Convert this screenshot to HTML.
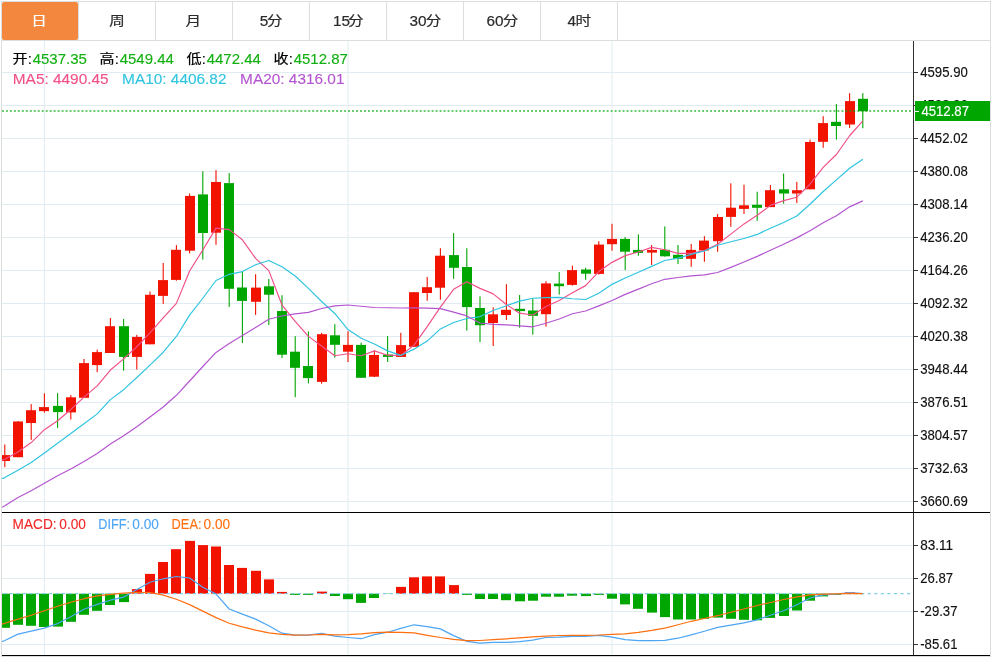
<!DOCTYPE html>
<html lang="zh-CN"><head><meta charset="utf-8"><title>K线图</title>
<style>
html,body{margin:0;padding:0;background:#fff;}
body{width:1000px;height:657px;overflow:hidden;position:relative;}
svg{display:block;position:absolute;left:0;top:0;}
text{font-family:"Liberation Sans","Noto Sans CJK SC",sans-serif;}
.ax{font-size:14.3px;fill:#111;stroke:#111;stroke-width:0.15px;}
.tabd{font-size:15.3px;stroke-width:0.2px;}
.tabc{font-size:15.6px;stroke-width:0.2px;}
.info{font-size:15px;}
.cj{font-size:15px;}
.info,.r2,.mi{stroke-width:0.12px;}
.cj{stroke-width:0.2px;}
.r2{font-size:15.4px;}
.mi{font-size:14px;}
</style></head><body>
<svg width="1000" height="657" viewBox="0 0 1000 657">
<rect x="0" y="0" width="1000" height="657" fill="#fff"/>
<g shape-rendering="crispEdges">
<rect x="1.5" y="1.5" width="989" height="655" fill="none" stroke="#ddd" stroke-width="1"/>
<rect x="2" y="40" width="988" height="1" fill="#ddd"/>
<rect x="78" y="2" width="1" height="38" fill="#ddd"/>
<rect x="155" y="2" width="1" height="38" fill="#ddd"/>
<rect x="232" y="2" width="1" height="38" fill="#ddd"/>
<rect x="309" y="2" width="1" height="38" fill="#ddd"/>
<rect x="386" y="2" width="1" height="38" fill="#ddd"/>
<rect x="463" y="2" width="1" height="38" fill="#ddd"/>
<rect x="540" y="2" width="1" height="38" fill="#ddd"/>
<rect x="617" y="2" width="1" height="38" fill="#ddd"/>
</g>
<rect x="2" y="2" width="76" height="38" rx="2" ry="2" fill="#f2873d"/>
<text class="tabc" transform="translate(31.3,24.9) scale(1,0.81)" fill="#fff" stroke="#fff">日</text>
<text class="tabc" transform="translate(109.2,24.9) scale(1,0.81)" fill="#2b2b2b" stroke="#2b2b2b">周</text>
<text class="tabc" transform="translate(185.6,24.9) scale(1,0.81)" fill="#2b2b2b" stroke="#2b2b2b">月</text>
<text class="tabd" x="259.7" y="26" fill="#2b2b2b" stroke="#2b2b2b">5</text><text class="tabc" transform="translate(267,24.9) scale(1,0.81)" fill="#2b2b2b" stroke="#2b2b2b">分</text>
<text class="tabd" x="333" y="26" fill="#2b2b2b" stroke="#2b2b2b">15</text><text class="tabc" transform="translate(348,24.9) scale(1,0.81)" fill="#2b2b2b" stroke="#2b2b2b">分</text>
<text class="tabd" x="409.4" y="26" fill="#2b2b2b" stroke="#2b2b2b">30</text><text class="tabc" transform="translate(425.8,24.9) scale(1,0.81)" fill="#2b2b2b" stroke="#2b2b2b">分</text>
<text class="tabd" x="486.4" y="26" fill="#2b2b2b" stroke="#2b2b2b">60</text><text class="tabc" transform="translate(502.8,24.9) scale(1,0.81)" fill="#2b2b2b" stroke="#2b2b2b">分</text>
<text class="tabd" x="567.6" y="26" fill="#2b2b2b" stroke="#2b2b2b">4</text><text class="tabc" transform="translate(575.4,24.9) scale(1,0.81)" fill="#2b2b2b" stroke="#2b2b2b">时</text>
<g shape-rendering="crispEdges" fill="#e1ecf2">
<rect x="2" y="72" width="911" height="1"/>
<rect x="2" y="105" width="911" height="1"/>
<rect x="2" y="138" width="911" height="1"/>
<rect x="2" y="171" width="911" height="1"/>
<rect x="2" y="204" width="911" height="1"/>
<rect x="2" y="237" width="911" height="1"/>
<rect x="2" y="270" width="911" height="1"/>
<rect x="2" y="303" width="911" height="1"/>
<rect x="2" y="336" width="911" height="1"/>
<rect x="2" y="369" width="911" height="1"/>
<rect x="2" y="402" width="911" height="1"/>
<rect x="2" y="435" width="911" height="1"/>
<rect x="2" y="468" width="911" height="1"/>
<rect x="2" y="501" width="911" height="1"/>
<rect x="2" y="545" width="911" height="1"/>
<rect x="2" y="578" width="911" height="1"/>
<rect x="2" y="611" width="911" height="1"/>
<rect x="2" y="644" width="911" height="1"/>
</g>
<g fill="#e1ecf2">
<rect x="43.9" y="41" width="1" height="614"/>
<rect x="347.5" y="41" width="1" height="614"/>
<rect x="611.5" y="41" width="1" height="614"/>
</g>
<defs><clipPath id="cp"><rect x="2" y="41" width="911" height="471"/></clipPath><clipPath id="cm"><rect x="2" y="513" width="911" height="142"/></clipPath></defs>
<g clip-path="url(#cp)">
<rect x="4.25" y="444.5" width="1.1" height="22.6" fill="#f11200"/><rect x="0" y="455.1" width="10" height="5.9" fill="#f11200"/>
<rect x="17.45" y="421" width="1.1" height="36.2" fill="#f11200"/><rect x="13" y="421.5" width="10" height="35.7" fill="#f11200"/>
<rect x="30.65" y="404.1" width="1.1" height="35.8" fill="#f11200"/><rect x="26" y="410.2" width="10" height="12.8" fill="#f11200"/>
<rect x="43.85" y="393.3" width="1.1" height="19.3" fill="#f11200"/><rect x="39" y="407.1" width="10" height="4" fill="#f11200"/>
<rect x="57.05" y="393.1" width="1.1" height="34.8" fill="#00a600"/><rect x="53" y="405.9" width="10" height="6.2" fill="#00a600"/>
<rect x="70.25" y="395.1" width="1.1" height="24.4" fill="#f11200"/><rect x="66" y="397.3" width="10" height="15.1" fill="#f11200"/>
<rect x="83.45" y="359" width="1.1" height="38.8" fill="#f11200"/><rect x="79" y="363.1" width="10" height="34.7" fill="#f11200"/>
<rect x="96.65" y="349.6" width="1.1" height="22.6" fill="#f11200"/><rect x="92" y="352.1" width="10" height="13" fill="#f11200"/>
<rect x="109.85" y="318" width="1.1" height="35" fill="#f11200"/><rect x="105" y="326.2" width="10" height="26.8" fill="#f11200"/>
<rect x="123.05" y="318.9" width="1.1" height="51.8" fill="#00a600"/><rect x="119" y="326.2" width="10" height="30.7" fill="#00a600"/>
<rect x="136.25" y="334.9" width="1.1" height="34.6" fill="#f11200"/><rect x="132" y="336.9" width="10" height="20" fill="#f11200"/>
<rect x="149.45" y="291.5" width="1.1" height="52.8" fill="#f11200"/><rect x="145" y="294.8" width="10" height="49.5" fill="#f11200"/>
<rect x="162.65" y="263" width="1.1" height="40.9" fill="#f11200"/><rect x="158" y="280.1" width="10" height="15.8" fill="#f11200"/>
<rect x="175.85" y="245.1" width="1.1" height="35.6" fill="#f11200"/><rect x="171" y="249.8" width="10" height="30.1" fill="#f11200"/>
<rect x="189.05" y="193.5" width="1.1" height="59.9" fill="#f11200"/><rect x="185" y="195.9" width="10" height="54.8" fill="#f11200"/>
<rect x="202.25" y="171.3" width="1.1" height="88.3" fill="#00a600"/><rect x="198" y="194.4" width="10" height="38.6" fill="#00a600"/>
<rect x="215.45" y="170.1" width="1.1" height="74.7" fill="#f11200"/><rect x="211" y="182" width="10" height="50.7" fill="#f11200"/>
<rect x="228.65" y="173.1" width="1.1" height="133.8" fill="#00a600"/><rect x="224" y="183.1" width="10" height="105.7" fill="#00a600"/>
<rect x="241.85" y="271.6" width="1.1" height="71.4" fill="#00a600"/><rect x="237" y="287.5" width="10" height="13.4" fill="#00a600"/>
<rect x="255.05" y="274.2" width="1.1" height="40.7" fill="#f11200"/><rect x="251" y="287.6" width="10" height="14.2" fill="#f11200"/>
<rect x="268.25" y="279" width="1.1" height="46" fill="#00a600"/><rect x="264" y="286.3" width="10" height="8.4" fill="#00a600"/>
<rect x="281.45" y="295.2" width="1.1" height="62.8" fill="#00a600"/><rect x="277" y="311" width="10" height="43.7" fill="#00a600"/>
<rect x="294.65" y="336.2" width="1.1" height="61" fill="#00a600"/><rect x="290" y="351.7" width="10" height="16.1" fill="#00a600"/>
<rect x="307.85" y="331.4" width="1.1" height="52" fill="#00a600"/><rect x="303" y="366" width="10" height="12.1" fill="#00a600"/>
<rect x="321.05" y="332.9" width="1.1" height="50.8" fill="#f11200"/><rect x="317" y="334.2" width="10" height="47.7" fill="#f11200"/>
<rect x="334.25" y="324.1" width="1.1" height="33.6" fill="#00a600"/><rect x="330" y="335.3" width="10" height="9.5" fill="#00a600"/>
<rect x="347.45" y="331.2" width="1.1" height="30.9" fill="#f11200"/><rect x="343" y="344.9" width="10" height="6.8" fill="#f11200"/>
<rect x="360.65" y="342.7" width="1.1" height="35.1" fill="#00a600"/><rect x="356" y="344.9" width="10" height="32.9" fill="#00a600"/>
<rect x="373.85" y="350.3" width="1.1" height="26.7" fill="#f11200"/><rect x="369" y="355" width="10" height="21.7" fill="#f11200"/>
<rect x="387.05" y="336.1" width="1.1" height="25.8" fill="#00a600"/><rect x="383" y="354.6" width="10" height="2.3" fill="#00a600"/>
<rect x="400.25" y="332.8" width="1.1" height="24.1" fill="#f11200"/><rect x="396" y="345.1" width="10" height="11.8" fill="#f11200"/>
<rect x="413.45" y="292.2" width="1.1" height="54.6" fill="#f11200"/><rect x="409" y="292.2" width="10" height="54.6" fill="#f11200"/>
<rect x="426.65" y="277" width="1.1" height="23.7" fill="#f11200"/><rect x="422" y="287.2" width="10" height="5.8" fill="#f11200"/>
<rect x="439.85" y="248.2" width="1.1" height="51.5" fill="#f11200"/><rect x="435" y="255.7" width="10" height="32" fill="#f11200"/>
<rect x="453.05" y="233.1" width="1.1" height="45.7" fill="#00a600"/><rect x="449" y="255.1" width="10" height="12.7" fill="#00a600"/>
<rect x="466.25" y="248.2" width="1.1" height="82.3" fill="#00a600"/><rect x="462" y="267" width="10" height="40.1" fill="#00a600"/>
<rect x="479.45" y="296.3" width="1.1" height="45.8" fill="#00a600"/><rect x="475" y="308" width="10" height="17.2" fill="#00a600"/>
<rect x="492.65" y="307.4" width="1.1" height="38.6" fill="#f11200"/><rect x="488" y="314.3" width="10" height="8.7" fill="#f11200"/>
<rect x="505.85" y="284.2" width="1.1" height="35.7" fill="#f11200"/><rect x="501" y="309.8" width="10" height="5.2" fill="#f11200"/>
<rect x="519.05" y="295" width="1.1" height="32.7" fill="#00a600"/><rect x="515" y="308.8" width="10" height="2.3" fill="#00a600"/>
<rect x="532.25" y="298.6" width="1.1" height="36" fill="#00a600"/><rect x="528" y="310.5" width="10" height="5.3" fill="#00a600"/>
<rect x="545.45" y="281.2" width="1.1" height="45.4" fill="#f11200"/><rect x="541" y="283.4" width="10" height="30.8" fill="#f11200"/>
<rect x="558.65" y="272" width="1.1" height="22.6" fill="#00a600"/><rect x="554" y="283.6" width="10" height="2.6" fill="#00a600"/>
<rect x="571.85" y="265.6" width="1.1" height="20" fill="#f11200"/><rect x="567" y="270.1" width="10" height="14.8" fill="#f11200"/>
<rect x="585.05" y="267.8" width="1.1" height="12" fill="#00a600"/><rect x="581" y="269.5" width="10" height="4.2" fill="#00a600"/>
<rect x="598.25" y="241.2" width="1.1" height="33.4" fill="#f11200"/><rect x="594" y="244.6" width="10" height="29.3" fill="#f11200"/>
<rect x="611.45" y="223.8" width="1.1" height="26.9" fill="#f11200"/><rect x="607" y="238.9" width="10" height="5.3" fill="#f11200"/>
<rect x="624.65" y="237.1" width="1.1" height="33" fill="#00a600"/><rect x="620" y="238.9" width="10" height="12.8" fill="#00a600"/>
<rect x="637.85" y="234.4" width="1.1" height="21.4" fill="#00a600"/><rect x="633" y="249.9" width="10" height="3" fill="#00a600"/>
<rect x="651.05" y="245" width="1.1" height="19.9" fill="#f11200"/><rect x="647" y="249.9" width="10" height="2.7" fill="#f11200"/>
<rect x="664.25" y="226.4" width="1.1" height="30.3" fill="#00a600"/><rect x="660" y="249.8" width="10" height="6.5" fill="#00a600"/>
<rect x="677.45" y="245" width="1.1" height="19.1" fill="#00a600"/><rect x="673" y="254.8" width="10" height="4" fill="#00a600"/>
<rect x="690.65" y="243.9" width="1.1" height="22.9" fill="#f11200"/><rect x="686" y="249.9" width="10" height="8.9" fill="#f11200"/>
<rect x="703.85" y="236.2" width="1.1" height="25.6" fill="#f11200"/><rect x="699" y="240.6" width="10" height="9.9" fill="#f11200"/>
<rect x="717.05" y="214.1" width="1.1" height="37.6" fill="#f11200"/><rect x="713" y="217" width="10" height="24.2" fill="#f11200"/>
<rect x="730.25" y="183.3" width="1.1" height="43.5" fill="#f11200"/><rect x="726" y="207.7" width="10" height="9.2" fill="#f11200"/>
<rect x="743.45" y="184.8" width="1.1" height="29.1" fill="#f11200"/><rect x="739" y="205.3" width="10" height="3.6" fill="#f11200"/>
<rect x="756.65" y="191.7" width="1.1" height="29" fill="#00a600"/><rect x="752" y="204.8" width="10" height="3" fill="#00a600"/>
<rect x="769.85" y="184.9" width="1.1" height="22.2" fill="#f11200"/><rect x="765" y="190.2" width="10" height="16.9" fill="#f11200"/>
<rect x="783.05" y="173.5" width="1.1" height="30.1" fill="#00a600"/><rect x="779" y="189.3" width="10" height="4.2" fill="#00a600"/>
<rect x="796.25" y="181.9" width="1.1" height="21.1" fill="#f11200"/><rect x="792" y="190.2" width="10" height="3.3" fill="#f11200"/>
<rect x="809.45" y="139.6" width="1.1" height="49.7" fill="#f11200"/><rect x="805" y="142" width="10" height="47.3" fill="#f11200"/>
<rect x="822.65" y="116.2" width="1.1" height="31.6" fill="#f11200"/><rect x="818" y="123.1" width="10" height="18.7" fill="#f11200"/>
<rect x="835.85" y="104.1" width="1.1" height="35.5" fill="#00a600"/><rect x="831" y="121.8" width="10" height="4.2" fill="#00a600"/>
<rect x="849.05" y="93.1" width="1.1" height="34.8" fill="#f11200"/><rect x="845" y="101.1" width="10" height="23.4" fill="#f11200"/>
<rect x="862.25" y="93.1" width="1.1" height="35.1" fill="#00a600"/><rect x="858" y="98.8" width="10" height="12.4" fill="#00a600"/>
<polyline fill="none" stroke="#f0508a" stroke-width="1.18" stroke-linejoin="round" points="2,460.2 4.8,459.3 18,452 31.2,442.6 44.4,429.7 57.6,420.8 70.8,409.52 84,397.13 97.2,385.92 110.4,370.03 123.6,358.86 136.8,346.77 150,332.79 163.2,317.79 176.4,303.35 189.6,270.95 202.8,249.96 216,228.13 229.2,229.65 242.4,239.81 255.6,258.43 268.8,270.6 282,305.07 295.2,321.32 308.4,336.39 321.6,345.95 334.8,355.71 348,353.73 361.2,355.73 374.4,350.92 387.6,355.19 400.8,355.52 414,345.1 427.2,326.64 440.4,307.11 453.6,289.3 466.8,281.75 480,288.4 493.2,293.91 506.4,304.57 519.6,313.2 532.8,314.97 546,306.49 559.2,300.48 572.4,292.76 585.6,285.62 598.8,271.55 612,262.35 625.2,255.65 638.4,252.03 651.6,247.4 664.8,249.72 678,253.41 691.2,253.38 704.4,250.65 717.6,244.21 730.8,234.15 744,223.9 757.2,215.29 770.4,205.35 783.6,200.6 796.8,197.2 810,184.22 823.2,167.4 836.4,154.53 849.6,135.74 862.8,120.87"/>
<polyline fill="none" stroke="#2fc4e0" stroke-width="1.18" stroke-linejoin="round" points="2,478.6 4.8,477.6 18,470.2 31.2,462.6 44.4,453.1 57.6,443.3 70.8,433.5 84,423.7 97.2,413.9 110.4,399.6 123.6,389.68 136.8,377.52 150,365.13 163.2,352.23 176.4,336.47 189.6,315.11 202.8,298.24 216,280.49 229.2,274.32 242.4,271.55 255.6,264.69 268.8,260.53 282,266.73 295.2,276.01 308.4,288.38 321.6,301.49 334.8,313.48 348,329.52 361.2,338.33 374.4,343.98 387.6,350.89 400.8,355.41 414,349.14 427.2,341.11 440.4,328.94 453.6,322.47 466.8,318.53 480,316.65 493.2,310.57 506.4,305.72 519.6,301.18 532.8,298.26 546,297.57 559.2,297.37 572.4,298.74 585.6,299.49 598.8,293.21 612,284.35 625.2,278.01 638.4,272.17 651.6,266.41 664.8,260.53 678,258.06 691.2,254.34 704.4,250.97 717.6,245.28 730.8,241.78 744,238.5 757.2,234.41 770.4,228.27 783.6,222.45 796.8,215.95 810,204.26 823.2,191.52 836.4,179.89 849.6,168.3 862.8,159.23"/>
<polyline fill="none" stroke="#b455d0" stroke-width="1.18" stroke-linejoin="round" points="2,507.3 4.8,505.8 18,497.5 31.2,490.7 44.4,483.2 57.6,475.7 70.8,469 84,461.4 97.2,453.4 110.4,444.1 123.6,435.8 136.8,426.7 150,417 163.2,407 176.4,395.3 189.6,381 202.8,366.5 216,352.4 229.2,343.6 242.4,335.5 255.6,327.44 268.8,319.27 282,316 295.2,313.85 308.4,312.37 321.6,308.52 334.8,305.86 348,305 361.2,306.25 374.4,307.52 387.6,307.72 400.8,307.97 414,307.91 427.2,308.09 440.4,308.58 453.6,312.08 466.8,315.93 480,323.01 493.2,324.4 506.4,324.82 519.6,325.86 532.8,326.79 546,323.25 559.2,318.97 572.4,313.76 585.6,311 598.8,305.85 612,300.45 625.2,294.39 638.4,289.14 651.6,283.77 664.8,279.3 678,277.46 691.2,275.88 704.4,274.9 717.6,272.48 730.8,267.35 744,262 757.2,256.39 770.4,250.3 783.6,244.21 796.8,237.87 810,230.68 823.2,222.85 836.4,215.7 849.6,206.84 862.8,200.89"/>
</g>
<line x1="1.97" y1="111" x2="911.1" y2="111" stroke="#00a600" stroke-opacity="0.6" stroke-width="1.9" stroke-dasharray="1.9 2.0785"/>
<g clip-path="url(#cm)">
<rect x="0" y="593.7" width="10" height="34.1" fill="#00a600"/>
<rect x="13" y="593.7" width="10" height="31.1" fill="#00a600"/>
<rect x="26" y="593.7" width="10" height="32.1" fill="#00a600"/>
<rect x="39" y="593.7" width="10" height="33.3" fill="#00a600"/>
<rect x="53" y="593.7" width="10" height="32.9" fill="#00a600"/>
<rect x="66" y="593.7" width="10" height="28.1" fill="#00a600"/>
<rect x="79" y="593.7" width="10" height="21.1" fill="#00a600"/>
<rect x="92" y="593.7" width="10" height="17.1" fill="#00a600"/>
<rect x="105" y="593.7" width="10" height="11.3" fill="#00a600"/>
<rect x="119" y="593.7" width="10" height="8.4" fill="#00a600"/>
<rect x="132" y="589.1" width="10" height="4.6" fill="#f11200"/>
<rect x="145" y="573.9" width="10" height="19.8" fill="#f11200"/>
<rect x="158" y="562" width="10" height="31.7" fill="#f11200"/>
<rect x="171" y="549.2" width="10" height="44.5" fill="#f11200"/>
<rect x="185" y="540.9" width="10" height="52.8" fill="#f11200"/>
<rect x="198" y="545.1" width="10" height="48.6" fill="#f11200"/>
<rect x="211" y="546.5" width="10" height="47.2" fill="#f11200"/>
<rect x="224" y="565" width="10" height="28.7" fill="#f11200"/>
<rect x="237" y="567.9" width="10" height="25.8" fill="#f11200"/>
<rect x="251" y="570.8" width="10" height="22.9" fill="#f11200"/>
<rect x="264" y="579.4" width="10" height="14.3" fill="#f11200"/>
<rect x="277" y="591.9" width="10" height="1.8" fill="#f11200"/>
<rect x="290" y="593.7" width="10" height="1.2" fill="#00a600"/>
<rect x="303" y="593.7" width="10" height="1.2" fill="#00a600"/>
<rect x="317" y="591.6" width="10" height="2.1" fill="#f11200"/>
<rect x="330" y="593.7" width="10" height="2.3" fill="#00a600"/>
<rect x="343" y="593.7" width="10" height="5.5" fill="#00a600"/>
<rect x="356" y="593.7" width="10" height="9.2" fill="#00a600"/>
<rect x="369" y="593.7" width="10" height="4.3" fill="#00a600"/>
<rect x="383" y="593.7" width="10" height="0.3" fill="#00a600"/>
<rect x="396" y="586.9" width="10" height="6.8" fill="#f11200"/>
<rect x="409" y="577.3" width="10" height="16.4" fill="#f11200"/>
<rect x="422" y="576.4" width="10" height="17.3" fill="#f11200"/>
<rect x="435" y="576.4" width="10" height="17.3" fill="#f11200"/>
<rect x="449" y="585.1" width="10" height="8.6" fill="#f11200"/>
<rect x="462" y="593.7" width="10" height="1.2" fill="#00a600"/>
<rect x="475" y="593.7" width="10" height="5.3" fill="#00a600"/>
<rect x="488" y="593.7" width="10" height="5.3" fill="#00a600"/>
<rect x="501" y="593.7" width="10" height="6.5" fill="#00a600"/>
<rect x="515" y="593.7" width="10" height="7.6" fill="#00a600"/>
<rect x="528" y="593.7" width="10" height="7" fill="#00a600"/>
<rect x="541" y="593.7" width="10" height="3" fill="#00a600"/>
<rect x="554" y="593.7" width="10" height="3" fill="#00a600"/>
<rect x="567" y="593.7" width="10" height="2" fill="#00a600"/>
<rect x="581" y="593.7" width="10" height="2.4" fill="#00a600"/>
<rect x="594" y="593.7" width="10" height="1.2" fill="#00a600"/>
<rect x="607" y="593.7" width="10" height="5" fill="#00a600"/>
<rect x="620" y="593.7" width="10" height="10.7" fill="#00a600"/>
<rect x="633" y="593.7" width="10" height="15.1" fill="#00a600"/>
<rect x="647" y="593.7" width="10" height="18.9" fill="#00a600"/>
<rect x="660" y="593.7" width="10" height="23.4" fill="#00a600"/>
<rect x="673" y="593.7" width="10" height="25.8" fill="#00a600"/>
<rect x="686" y="593.7" width="10" height="25.8" fill="#00a600"/>
<rect x="699" y="593.7" width="10" height="25.1" fill="#00a600"/>
<rect x="713" y="593.7" width="10" height="23.9" fill="#00a600"/>
<rect x="726" y="593.7" width="10" height="25.1" fill="#00a600"/>
<rect x="739" y="593.7" width="10" height="26.1" fill="#00a600"/>
<rect x="752" y="593.7" width="10" height="26.6" fill="#00a600"/>
<rect x="765" y="593.7" width="10" height="24.2" fill="#00a600"/>
<rect x="779" y="593.7" width="10" height="22.3" fill="#00a600"/>
<rect x="792" y="593.7" width="10" height="16.8" fill="#00a600"/>
<rect x="805" y="593.7" width="10" height="7" fill="#00a600"/>
<rect x="818" y="593.7" width="10" height="2.7" fill="#00a600"/>
<rect x="831" y="593.7" width="10" height="1.2" fill="#00a600"/>
<rect x="845" y="592.4" width="10" height="1.3" fill="#f11200"/>
<line x1="2" y1="593.6" x2="913" y2="593.6" stroke="#7fcbea" stroke-width="1.15" stroke-dasharray="3 3.55" stroke-dashoffset="5.4"/>
<polyline fill="none" stroke="#4da6f5" stroke-width="1.18" stroke-linejoin="round" points="2,641.6 4.8,640.5 18,634.1 31.2,631.1 44.4,628.1 57.6,623.6 70.8,616.8 84,609.3 97.2,604.4 110.4,600.2 123.6,597.2 136.8,589.6 150,582.3 163.2,578.8 176.4,576.5 189.6,578 202.8,587.3 216,594.1 229.2,609 242.4,614.1 255.6,619.1 268.8,625.8 282,633.2 295.2,635.2 308.4,635.2 321.6,633.4 334.8,636.1 348,637.5 361.2,638.7 374.4,634.6 387.6,632.2 400.8,628.4 414,624.8 427.2,626.6 440.4,628.9 453.6,635.6 466.8,641.4 480,643.2 493.2,642.4 506.4,642.4 519.6,641.7 532.8,640.2 546,637.5 559.2,637.2 572.4,636.3 585.6,636.4 598.8,635.3 612,637.2 625.2,639.7 638.4,640.6 651.6,640.6 664.8,640.3 678,638.2 691.2,634.9 704.4,631.3 717.6,627.4 730.8,625.1 744,622.8 757.2,619.8 770.4,615.3 783.6,610.8 796.8,604.7 810,598 823.2,594.9 836.4,594.2 849.6,592.7 862.8,593.7"/>
<polyline fill="none" stroke="#ff6f0f" stroke-width="1.18" stroke-linejoin="round" points="2,624.1 4.8,623.3 18,619.1 31.2,615.3 44.4,610.8 57.6,606.2 70.8,602.2 84,598.7 97.2,595.8 110.4,594.3 123.6,593.1 136.8,592.4 150,592.5 163.2,595.1 176.4,599.3 189.6,604.6 202.8,611.1 216,617.6 229.2,623.3 242.4,626.9 255.6,630.1 268.8,632.9 282,634.4 295.2,635.2 308.4,635 321.6,634.4 334.8,634.9 348,634.6 361.2,633.8 374.4,632.6 387.6,632.2 400.8,632.3 414,632.9 427.2,635.3 440.4,637.5 453.6,639.4 466.8,640.6 480,640.5 493.2,639.6 506.4,638.8 519.6,637.9 532.8,636.8 546,636.1 559.2,635.5 572.4,635.4 585.6,635.3 598.8,635 612,634.4 625.2,633.8 638.4,632.3 651.6,630.4 664.8,628.1 678,624.8 691.2,621.3 704.4,618.5 717.6,615.7 730.8,612.3 744,609 757.2,605.5 770.4,602.5 783.6,599.5 796.8,596.9 810,594.9 823.2,594.2 836.4,593.9 849.6,593.4 862.8,593.7"/>
</g>
<g shape-rendering="crispEdges" fill="#333">
<rect x="913" y="41" width="1" height="615"/>
<rect x="2" y="512" width="988" height="1" fill="#000"/>
<rect x="2" y="655" width="988" height="1" fill="#000"/>
<rect x="914" y="72" width="4" height="1"/>
<rect x="914" y="105" width="4" height="1"/>
<rect x="914" y="138" width="4" height="1"/>
<rect x="914" y="171" width="4" height="1"/>
<rect x="914" y="204" width="4" height="1"/>
<rect x="914" y="237" width="4" height="1"/>
<rect x="914" y="270" width="4" height="1"/>
<rect x="914" y="303" width="4" height="1"/>
<rect x="914" y="336" width="4" height="1"/>
<rect x="914" y="369" width="4" height="1"/>
<rect x="914" y="402" width="4" height="1"/>
<rect x="914" y="435" width="4" height="1"/>
<rect x="914" y="468" width="4" height="1"/>
<rect x="914" y="501" width="4" height="1"/>
<rect x="914" y="545" width="4" height="1"/>
<rect x="914" y="578" width="4" height="1"/>
<rect x="914" y="611" width="4" height="1"/>
<rect x="914" y="644" width="4" height="1"/>
</g>
<text class="ax" x="920.2" y="76.6" textLength="47.6" lengthAdjust="spacingAndGlyphs">4595.90</text>
<text class="ax" x="920.2" y="109.6" textLength="47.6" lengthAdjust="spacingAndGlyphs">4523.96</text>
<text class="ax" x="920.2" y="142.6" textLength="47.6" lengthAdjust="spacingAndGlyphs">4452.02</text>
<text class="ax" x="920.2" y="175.6" textLength="47.6" lengthAdjust="spacingAndGlyphs">4380.08</text>
<text class="ax" x="920.2" y="208.6" textLength="47.6" lengthAdjust="spacingAndGlyphs">4308.14</text>
<text class="ax" x="920.2" y="241.6" textLength="47.6" lengthAdjust="spacingAndGlyphs">4236.20</text>
<text class="ax" x="920.2" y="274.6" textLength="47.6" lengthAdjust="spacingAndGlyphs">4164.26</text>
<text class="ax" x="920.2" y="307.6" textLength="47.6" lengthAdjust="spacingAndGlyphs">4092.32</text>
<text class="ax" x="920.2" y="340.6" textLength="47.6" lengthAdjust="spacingAndGlyphs">4020.38</text>
<text class="ax" x="920.2" y="373.6" textLength="47.6" lengthAdjust="spacingAndGlyphs">3948.44</text>
<text class="ax" x="920.2" y="406.6" textLength="47.6" lengthAdjust="spacingAndGlyphs">3876.51</text>
<text class="ax" x="920.2" y="439.6" textLength="47.6" lengthAdjust="spacingAndGlyphs">3804.57</text>
<text class="ax" x="920.2" y="472.6" textLength="47.6" lengthAdjust="spacingAndGlyphs">3732.63</text>
<text class="ax" x="920.2" y="505.6" textLength="47.6" lengthAdjust="spacingAndGlyphs">3660.69</text>
<text class="ax" x="920.2" y="549.6" textLength="32.9" lengthAdjust="spacingAndGlyphs">83.11</text>
<text class="ax" x="920.2" y="582.6" textLength="32.9" lengthAdjust="spacingAndGlyphs">26.87</text>
<text class="ax" x="920.2" y="615.6" textLength="37.3" lengthAdjust="spacingAndGlyphs">-29.37</text>
<text class="ax" x="920.2" y="648.6" textLength="37.3" lengthAdjust="spacingAndGlyphs">-85.61</text>
<rect x="915" y="101" width="75" height="20" fill="#00a600" shape-rendering="crispEdges"/>
<rect x="915" y="111" width="4" height="1" fill="#fff" shape-rendering="crispEdges"/>
<text class="ax" x="921.4" y="115.6" textLength="47.6" lengthAdjust="spacingAndGlyphs" style="fill:#fff;stroke:#fff">4512.87</text>
<text class="cj" transform="translate(12.5,62.9) scale(1,0.85)" fill="#000" stroke="#000">开</text><text class="info" x="27.7" y="64" fill="#000" stroke="#000">:</text><text class="info" x="32.7" y="64" fill="#12b012" stroke="#12b012">4537.35</text>
<text class="cj" transform="translate(99.5,62.9) scale(1,0.85)" fill="#000" stroke="#000">高</text><text class="info" x="114.7" y="64" fill="#000" stroke="#000">:</text><text class="info" x="119.7" y="64" fill="#12b012" stroke="#12b012">4549.44</text>
<text class="cj" transform="translate(186.5,62.9) scale(1,0.85)" fill="#000" stroke="#000">低</text><text class="info" x="201.7" y="64" fill="#000" stroke="#000">:</text><text class="info" x="206.7" y="64" fill="#12b012" stroke="#12b012">4472.44</text>
<text class="cj" transform="translate(273.5,62.9) scale(1,0.85)" fill="#000" stroke="#000">收</text><text class="info" x="288.7" y="64" fill="#000" stroke="#000">:</text><text class="info" x="293.7" y="64" fill="#12b012" stroke="#12b012">4512.87</text>
<text class="r2" x="12.8" y="84" fill="#f0508a" stroke="#f0508a">MA5: 4490.45</text>
<text class="r2" x="122.1" y="84" fill="#2fc4e0" stroke="#2fc4e0">MA10: 4406.82</text>
<text class="r2" x="240.1" y="84" fill="#b455d0" stroke="#b455d0">MA20: 4316.01</text>
<text class="mi" x="12.6" y="528.9" fill="#f02828" stroke="#f02828" textLength="44" lengthAdjust="spacingAndGlyphs">MACD:</text><text class="mi" x="59.3" y="528.9" fill="#f02828" stroke="#f02828" textLength="26.6" lengthAdjust="spacingAndGlyphs">0.00</text>
<text class="mi" x="98.3" y="528.9" fill="#4da6f5" stroke="#4da6f5" textLength="31.6" lengthAdjust="spacingAndGlyphs">DIFF:</text><text class="mi" x="132.3" y="528.9" fill="#4da6f5" stroke="#4da6f5" textLength="26.6" lengthAdjust="spacingAndGlyphs">0.00</text>
<text class="mi" x="171.6" y="528.9" fill="#ff6f0f" stroke="#ff6f0f" textLength="29.9" lengthAdjust="spacingAndGlyphs">DEA:</text><text class="mi" x="203.6" y="528.9" fill="#ff6f0f" stroke="#ff6f0f" textLength="26.6" lengthAdjust="spacingAndGlyphs">0.00</text>
</svg>
</body></html>
